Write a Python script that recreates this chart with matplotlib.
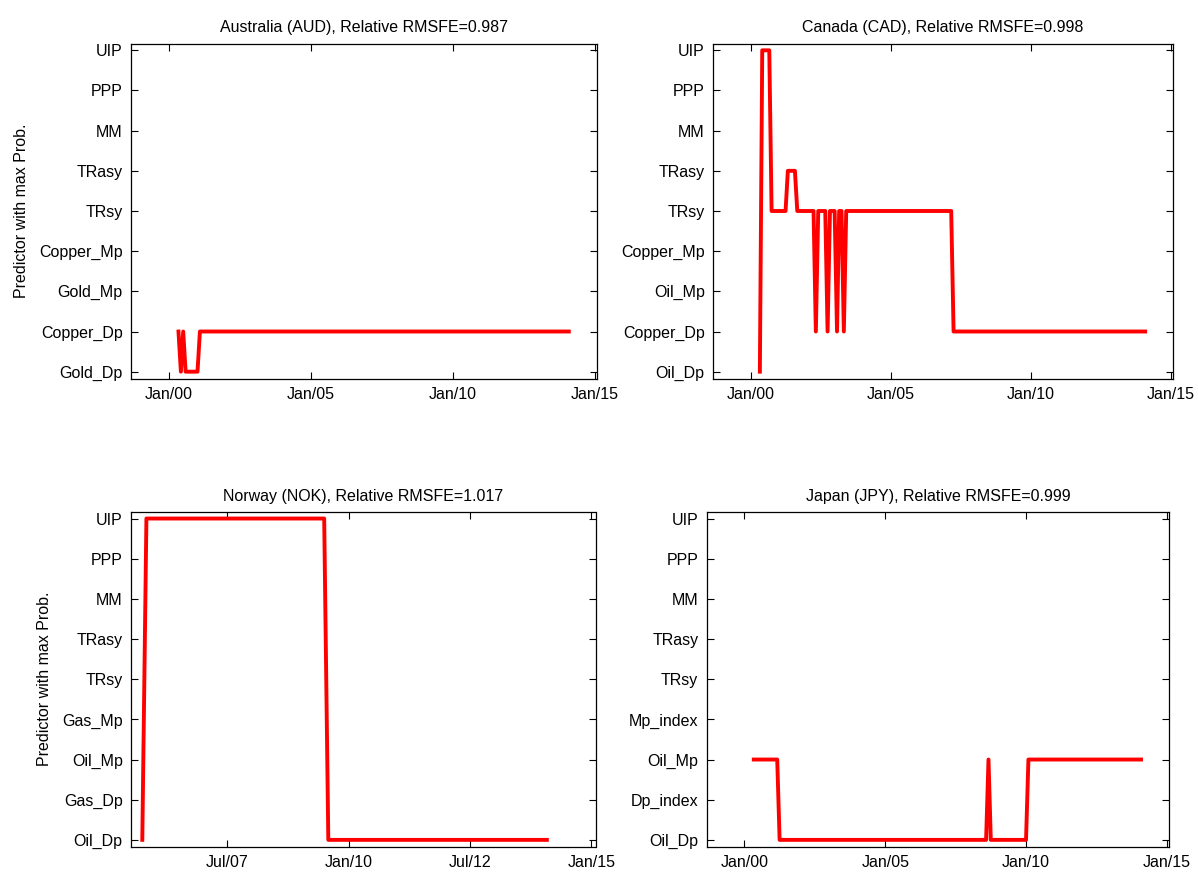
import numpy as np
import matplotlib
matplotlib.use('Agg')
import matplotlib.pyplot as plt
import matplotlib.dates as mdates
from datetime import datetime

plt.rcParams['font.family'] = ['Liberation Sans', 'DejaVu Sans']
plt.rcParams['font.size'] = 11.5

# predictor with max probability, vertices of the monthly series (1 = bottom label)
aud_dates = ['2000-05', '2000-06', '2000-07', '2000-08', '2001-01', '2001-02', '2014-02']
aud_vals = [2, 1, 2, 1, 1, 2, 2]
aud_labels = ['Gold_Dp', 'Copper_Dp', 'Gold_Mp', 'Copper_Mp', 'TRsy', 'TRasy', 'MM', 'PPP', 'UIP']

cad_dates = ['2000-05', '2000-06', '2000-09', '2000-10', '2001-04', '2001-05', '2001-08',
             '2001-09', '2002-04', '2002-05', '2002-06', '2002-09', '2002-10', '2002-11',
             '2003-01', '2003-02', '2003-03', '2003-04', '2003-05', '2003-06', '2007-03',
             '2007-04', '2014-02']
cad_vals = [1, 9, 9, 5, 5, 6, 6, 5, 5, 2, 5, 5, 2, 5, 5, 2, 5, 5, 2, 5, 5, 2, 2]
cad_labels = ['Oil_Dp', 'Copper_Dp', 'Oil_Mp', 'Copper_Mp', 'TRsy', 'TRasy', 'MM', 'PPP', 'UIP']

nok_dates = ['2005-10', '2005-11', '2009-07', '2009-08', '2014-02']
nok_vals = [1, 9, 9, 1, 1]
nok_labels = ['Oil_Dp', 'Gas_Dp', 'Oil_Mp', 'Gas_Mp', 'TRsy', 'TRasy', 'MM', 'PPP', 'UIP']

jpy_dates = ['2000-05', '2001-03', '2001-04', '2008-08', '2008-09', '2008-10', '2010-01',
             '2010-02', '2014-02']
jpy_vals = [3, 3, 1, 1, 3, 1, 1, 3, 3]
jpy_labels = ['Oil_Dp', 'Dp_index', 'Oil_Mp', 'Mp_index', 'TRsy', 'TRasy', 'MM', 'PPP', 'UIP']

titles = ['Australia (AUD), Relative RMSFE=0.987', 'Canada (CAD), Relative RMSFE=0.998',
          'Norway (NOK), Relative RMSFE=1.017', 'Japan (JPY), Relative RMSFE=0.999']

long_ticks = [datetime(2000, 1, 1), datetime(2005, 1, 1), datetime(2010, 1, 1), datetime(2015, 1, 1)]
short_ticks = [datetime(2007, 7, 1), datetime(2010, 1, 1), datetime(2012, 7, 1), datetime(2015, 1, 1)]
long_lim = (datetime(1998, 8, 29), datetime(2015, 1, 30))
short_lim = (datetime(2005, 7, 8), datetime(2015, 2, 2))

W, H = 1198, 873
fig = plt.figure(figsize=(W / 100, H / 100), dpi=100)

# axes boxes in pixels: left, top, right, bottom
boxes = [(131, 43.5, 597, 378.5), (713, 43.5, 1173, 378.5),
         (131, 511.7, 595.5, 846.7), (706.7, 511.7, 1169, 846.7)]
panels = [(aud_dates, aud_vals, aud_labels, long_ticks, long_lim),
          (cad_dates, cad_vals, cad_labels, long_ticks, long_lim),
          (nok_dates, nok_vals, nok_labels, short_ticks, short_lim),
          (jpy_dates, jpy_vals, jpy_labels, long_ticks, long_lim)]

for i, (box, (d, v, labs, xt, xl)) in enumerate(zip(boxes, panels)):
    l, t, r, b = box
    ax = fig.add_axes([l / W, 1 - b / H, (r - l) / W, (b - t) / H])
    dates = np.array(d, dtype='datetime64[M]').astype('datetime64[D]')
    ax.plot(dates, v, color='#ff0000', lw=2.8)
    ax.set_yticks(range(1, len(labs) + 1))
    ax.set_yticklabels(labs)
    ax.set_ylim(0.83, 9.17)
    ax.set_xticks(xt)
    ax.xaxis.set_major_formatter(mdates.DateFormatter('%b/%y'))
    ax.set_xlim(xl)
    ax.tick_params(direction='in', top=True, right=True, length=5, width=0.8, pad=6,
                   labelsize=11.5)
    for s in ax.spines.values():
        s.set_linewidth(0.9)
    ax.set_title(titles[i], fontsize=11.5, pad=8)
    if i % 2 == 0:
        ax.set_ylabel('Predictor with max Prob.', fontsize=11.5, labelpad=7)

fig.savefig('out.png', dpi=100)
